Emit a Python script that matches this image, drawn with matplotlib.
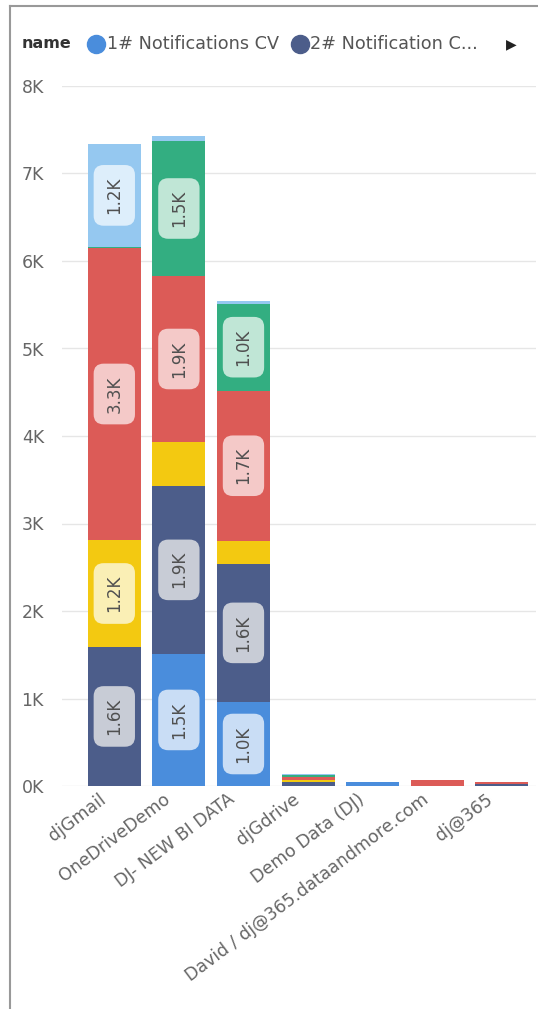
import numpy as np
import matplotlib
matplotlib.use("Agg")
import matplotlib.pyplot as plt
import matplotlib.transforms as mtransforms
from matplotlib.lines import Line2D

# data (values in notifications)
names = ["djGmail", "OneDriveDemo", "DJ- NEW BI DATA", "djGdrive",
         "Demo Data (DJ)", "David / dj@365.dataandmore.com", "dj@365"]
series_names = ["1# Notifications CV", "2# Notification C...", "3#", "4#", "5#", "6#"]
s1 = [0, 1510, 960, 5, 45, 0, 0]
s2 = [1590, 1920, 1580, 45, 0, 0, 20]
s3 = [1220, 500, 260, 20, 0, 0, 0]
s4 = [3340, 1900, 1720, 30, 0, 65, 30]
s5 = [15, 1540, 990, 25, 0, 0, 0]
s6 = [1170, 60, 30, 10, 0, 0, 0]
yticks = [0, 1000, 2000, 3000, 4000, 5000, 6000, 7000, 8000]
ytick_labels = ["0K", "1K", "2K", "3K", "4K", "5K", "6K", "7K", "8K"]

colors = ["#4A8DDC", "#4C5D8A", "#F3C911", "#DC5B57", "#33AE81", "#95C8F0"]
label_bg = ["#C9DDF5", "#C8CCD6", "#FAEFB5", "#F4C9C8", "#C0E6D6", "#DDEEFB"]

W, H = 538, 1009
fig = plt.figure(figsize=(W / 100, H / 100), dpi=100)
ax = fig.add_axes([62 / W, 1 - 786 / H, (536 - 62) / W, (786 - 86) / H])

x = np.arange(len(names))
bottom = np.zeros(len(names))
for i, vals in enumerate([s1, s2, s3, s4, s5, s6]):
    vals = np.array(vals, dtype=float)
    ax.bar(x, vals, bottom=bottom, width=0.82, color=colors[i], zorder=2)
    for xi, v, b in zip(x, vals, bottom):
        if v >= 900:
            lab = f"{np.floor(v / 100 + 0.5) / 10:.1f}K"
            ax.text(xi, b + v / 2, lab, rotation=90,
                    ha="center", va="center", fontsize=12, color="#505050",
                    zorder=3,
                    bbox=dict(boxstyle="round,pad=0.7,rounding_size=0.6",
                              fc=label_bg[i], ec="none"))
    bottom += vals

ax.set_xlim(-0.81, 6.53)
ax.set_ylim(0, 8000)
ax.set_yticks(yticks)
ax.set_yticklabels(ytick_labels)
ax.grid(axis="y", color="#E6E6E6", lw=1, zorder=0)
ax.set_axisbelow(True)
for s in ax.spines.values():
    s.set_visible(False)
ax.tick_params(axis="y", length=0, labelsize=12.5, labelcolor="#666666", pad=13)
ax.tick_params(axis="x", length=0, labelsize=12.5, labelcolor="#666666", pad=3)
ax.set_xticks(x)
ax.set_xticklabels(names, rotation=37, ha="right", rotation_mode="anchor")
shift = mtransforms.ScaledTranslation(-16 / 100, 0, fig.dpi_scale_trans)
for t in ax.get_xticklabels():
    t.set_transform(t.get_transform() + shift)

# legend row
fig.text(22 / W, 1 - 44 / H, "name", fontsize=11.5, fontweight="bold",
         color="#333333", va="center")
fig.add_artist(Line2D([96 / W], [1 - 44 / H], marker="o", markersize=13,
                      color=colors[0], transform=fig.transFigure))
fig.text(107 / W, 1 - 44 / H, series_names[0], fontsize=12.7,
         color="#555555", va="center")
fig.add_artist(Line2D([300 / W], [1 - 44 / H], marker="o", markersize=13,
                      color=colors[1], transform=fig.transFigure))
fig.text(310 / W, 1 - 44 / H, series_names[1], fontsize=12.7,
         color="#555555", va="center")
fig.text(506 / W, 1 - 44 / H, "\u25B6", fontsize=10, color="#222222",
         va="center")

# frame
fig.add_artist(Line2D([9.5 / W, 9.5 / W], [0, 1 - 6 / H], color="#999999",
                      lw=1.5, transform=fig.transFigure))
fig.add_artist(Line2D([9.5 / W, 1], [1 - 6 / H, 1 - 6 / H], color="#999999",
                      lw=1.5, transform=fig.transFigure))

fig.savefig("out.png", dpi=100)
